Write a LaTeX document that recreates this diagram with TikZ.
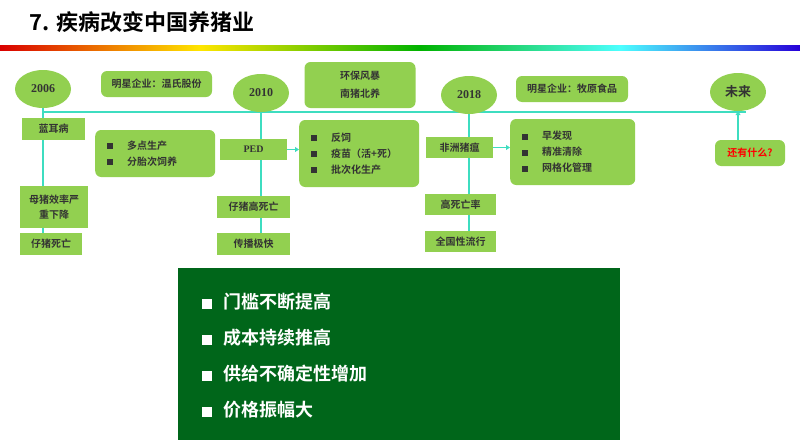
\documentclass[tikz,border=0pt]{standalone}
\usepackage{fontspec}
\setmainfont{Liberation Serif}
\newfontfamily\cjk{Noto Sans CJK SC}[BoldFont={Noto Sans CJK SC Bold}]
\usetikzlibrary{positioning,arrows.meta,shapes.geometric,backgrounds}
\definecolor{leaf}{HTML}{92D050}
\definecolor{teal}{HTML}{3EDDC0}
\definecolor{forest}{HTML}{00661A}
\tikzset{
  yr/.style={ellipse,fill=leaf,minimum width=56pt,minimum height=38pt,font=\bfseries\fontsize{12}{14}\selectfont,text=black!80},
  tag/.style={fill=leaf,font=\cjk\bfseries\fontsize{10}{15}\selectfont,text=black!80,align=center,inner sep=0pt},
  card/.style={tag,rounded corners=6pt},
  list/.style={card,align=left,inner xsep=12pt,anchor=west},
  axis/.style={teal,line width=1.6pt},
  push/.style={teal,line width=1.6pt,-{Triangle[length=4pt,width=5pt]}},
}
\newcommand{\bul}{\rule{6pt}{6pt}\hspace{14pt}}
\begin{document}
\begin{tikzpicture}[x=1pt,y=-1pt]
\useasboundingbox (0,0) rectangle (800,442);
% title and colour bar
\node[anchor=west,font=\cjk\bfseries\fontsize{22}{26}\selectfont] (title) at (26,22) {7. 疾病改变中国养猪业};
\shade[left color=red!85!black,right color=yellow!80!orange] (0,45) rectangle (200,50);
\shade[left color=yellow!80!orange,right color=green!70!black] (200,45) rectangle (420,50);
\shade[left color=green!70!black,right color=cyan!70] (420,45) rectangle (620,50);
\shade[left color=cyan!70,right color=blue!70!violet] (620,45) rectangle (800,50);
% year nodes
\node[yr] (y06) at (43,89) {2006};
\node[yr] (y10) at (261,93) {2010};
\node[yr] (y18) at (469,95) {2018};
\node[yr,font=\cjk\bfseries\fontsize{13}{15}\selectfont] (yfut) at (738,92) {未来};
% 2006
\node[tag,minimum width=63pt,minimum height=22pt] (lan) at (53.5,129) {蓝耳病};
\node[tag,minimum width=68pt,minimum height=42pt] (mu) at (54,207) {母猪效率严\\重下降};
\node[tag,minimum width=62pt,minimum height=22pt] (zi) at (51,244) {仔猪死亡};
\node[card,minimum width=111pt,minimum height=26pt] (wen) at (156.5,84) {明星企业：温氏股份};
\node[list,text width=96pt,minimum height=47pt] (duo) at (95,153.5) {\bul 多点生产\\[1pt]\bul 分胎次饲养};
% 2010
\node[tag,minimum width=67pt,minimum height=21pt,font=\bfseries\fontsize{10}{11}\selectfont] (ped) at (253.5,149.5) {PED};
\node[tag,minimum width=73pt,minimum height=22pt] (gao) at (253.5,207) {仔猪高死亡};
\node[tag,minimum width=73pt,minimum height=22pt] (chuan) at (253.5,244) {传播极快};
\node[card,minimum width=111pt,minimum height=46pt] (huan) at (360,85) {环保风暴\\[3pt]南猪北养};
\node[list,text width=96pt,minimum height=67pt] (fan) at (299,153.5) {\bul 反饲\\[1pt]\bul 疫苗（活+死）\\[1pt]\bul 批次化生产};
% 2018
\node[tag,minimum width=67pt,minimum height=21pt] (asf) at (459.5,147.5) {非洲猪瘟};
\node[tag,minimum width=71pt,minimum height=21pt] (gsl) at (460.5,204.5) {高死亡率};
\node[tag,minimum width=71pt,minimum height=21pt] (qg) at (460.5,241.5) {全国性流行};
\node[card,minimum width=112pt,minimum height=26pt] (mu2) at (572,89) {明星企业：牧原食品};
\node[list,text width=101pt,minimum height=66pt] (zao) at (510,152) {\bul 早发现\\[1pt]\bul 精准清除\\[1pt]\bul 网格化管理};
% future
\node[card,minimum width=70pt,minimum height=26pt,text=red] (what) at (750,153) {还有什么?};
% connectors
\begin{scope}[on background layer]
\coordinate (start) at (42,112);
\coordinate (stop) at (746,112);
\draw[axis] (start) -- (stop);
\draw[axis] (y06.south) -- (y06.south |- zi.north);
\draw[axis] (y10.south) -- (y10.south |- chuan.north);
\draw[axis] (y18.south) -- (y18.south |- qg.north);
\end{scope}
\draw[push] (what.north -| yfut.south) -- (yfut.south);
\draw[push] (ped.east) -- (fan.west |- ped.east);
\draw[push] (asf.east) -- (zao.west |- asf.east);
% summary box
\node[fill=forest,text=white,minimum width=442pt,minimum height=172pt,anchor=north west,inner sep=0pt] (sum) at (178,268) {};
\node[anchor=west,text=white,font=\cjk\bfseries\fontsize{18}{22}\selectfont,align=left] (pts) at (198,356)
  {\rule{10pt}{10pt}\hspace{12pt}门槛不断提高\\[14pt]\rule{10pt}{10pt}\hspace{12pt}成本持续推高\\[14pt]\rule{10pt}{10pt}\hspace{12pt}供给不确定性增加\\[14pt]\rule{10pt}{10pt}\hspace{12pt}价格振幅大};
\end{tikzpicture}
\end{document}
